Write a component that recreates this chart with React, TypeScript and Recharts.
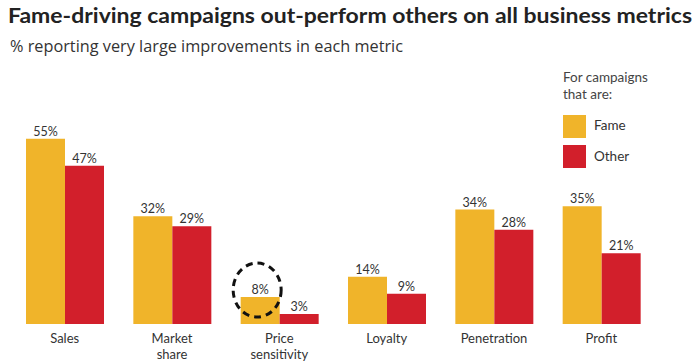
import React from "react";
import { BarChart, Bar, XAxis, YAxis, LabelList } from "recharts";

const categories = ["Sales", "Market share", "Price sensitivity", "Loyalty", "Penetration", "Profit"];
const fameValues = [55, 32, 8, 14, 34, 35];
const otherValues = [47, 29, 3, 9, 28, 21];
const seriesNames = ["Fame", "Other"];
const highlightIndex = 2;

const FAME = "#F0B42A";
const OTHER = "#D21F2B";
const FONT = "Lato, 'Open Sans', sans-serif";

const data = categories.map((c, i) => ({ name: c, fame: fameValues[i], other: otherValues[i] }));

const CatTick = (props: any) => {
  const { x, y, payload } = props;
  const words = String(payload.value).split(" ");
  return (
    <g transform={`translate(${x},${y})`}>
      {words.map((w: string, i: number) => (
        <text key={i} x={0} y={11 + i * 16} textAnchor="middle" fill="#333" fontSize={13} fontFamily={FONT}>
          {w}
        </text>
      ))}
    </g>
  );
};

const ValueLabel = (props: any) => {
  const { x, y, width, value, index, highlight } = props;
  const cx = x + width / 2;
  return (
    <g>
      <text x={cx} y={y - 3} textAnchor="middle" fill="#333" fontSize={12.5} fontFamily={FONT}>
        {value}%
      </text>
      {highlight && index === highlightIndex ? (
        <ellipse cx={cx - 3} cy={y - 7} rx={24} ry={27} fill="none" stroke="#111" strokeWidth={3} strokeDasharray="7 5" />
      ) : null}
    </g>
  );
};

export default function App() {
  return (
    <div style={{ position: "absolute", left: 0, top: 0, width: 700, height: 364, background: "#fff", fontFamily: FONT }}>
      <div style={{ position: "absolute", left: 0, top: 0 }}>
        <BarChart width={700} height={364} data={data} margin={{ top: 122, right: 45, bottom: 0, left: 11 }} barGap={0} barSize={39}>
          <XAxis dataKey="name" axisLine={false} tickLine={false} interval={0} tick={<CatTick />} height={40} />
          <YAxis hide domain={[0, 60]} />
          <Bar dataKey="fame" name={seriesNames[0]} fill={FAME} isAnimationActive={false}>
            <LabelList dataKey="fame" content={(p: any) => <ValueLabel {...p} highlight />} />
          </Bar>
          <Bar dataKey="other" name={seriesNames[1]} fill={OTHER} isAnimationActive={false}>
            <LabelList dataKey="other" content={(p: any) => <ValueLabel {...p} />} />
          </Bar>
        </BarChart>
      </div>
      <svg style={{ position: "absolute", left: 0, top: 0 }} width={700} height={60}>
        <text x={8} y={23} fontSize={21} fontWeight={700} fill="#222" fontFamily={FONT} textLength={684} lengthAdjust="spacingAndGlyphs">
          Fame-driving campaigns out-perform others on all business metrics
        </text>
        <text x={10} y={52} fontSize={15.5} fill="#333" fontFamily="'Open Sans', sans-serif" textLength={393} lengthAdjust="spacingAndGlyphs">
          % reporting very large improvements in each metric
        </text>
      </svg>
      <div style={{ position: "absolute", left: 563, top: 69, fontSize: 13.5, color: "#444", lineHeight: "17px" }}>
        For campaigns
        <br />
        that are:
      </div>
      <div style={{ position: "absolute", left: 563, top: 115, width: 23, height: 23, background: FAME }} />
      <div style={{ position: "absolute", left: 594, top: 117, fontSize: 13.5, color: "#333" }}>{seriesNames[0]}</div>
      <div style={{ position: "absolute", left: 563, top: 145, width: 23, height: 23, background: OTHER }} />
      <div style={{ position: "absolute", left: 594, top: 148, fontSize: 13.5, color: "#333" }}>{seriesNames[1]}</div>
    </div>
  );
}
